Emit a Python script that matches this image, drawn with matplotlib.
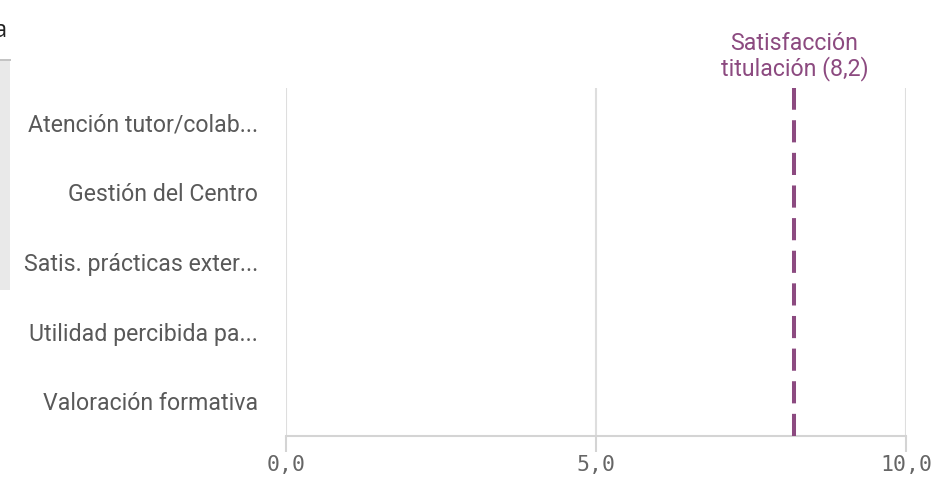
import matplotlib
matplotlib.use("Agg")
import matplotlib.pyplot as plt
import matplotlib.patches as mpatches
import numpy as np

categories = ["Atención tutor/colab...", "Gestión del Centro", "Satis. prácticas exter...",
              "Utilidad percibida pa...", "Valoración formativa"]
values = [np.nan, np.nan, np.nan, np.nan, np.nan]
ref_value = 8.2
ref_label = "Satisfacción\ntitulación (8,2)"
xticks = [0, 5, 10]
xtick_labels = ["0,0", "5,0", "10,0"]

W, H = 947, 504
fig = plt.figure(figsize=(W / 100, H / 100), dpi=100)

# left gray panel (partially visible)
fig.patches.append(mpatches.Rectangle((0, 1 - 290 / H), 10 / W, (290 - 60) / H,
                                      transform=fig.transFigure, facecolor="#e9e9e9",
                                      edgecolor="none", zorder=0))
fig.patches.append(mpatches.Rectangle((0, 1 - 61 / H), 11 / W, 2 / H,
                                      transform=fig.transFigure, facecolor="#c4c4c4",
                                      edgecolor="none", zorder=1))
# clipped title fragment
fig.text(-6 / W, 1 - 31 / H, "a", fontsize=17, color="#222222", family="Open Sans",
         ha="left", va="center")

ax = fig.add_axes([286 / W, 1 - 436 / H, (906 - 286) / W, (436 - 88) / H])
y = np.arange(len(categories))
ax.barh(y, values, height=0.6, color="#4477aa")
ax.set_ylim(len(categories) - 0.5, -0.5)
ax.set_xlim(0, 10)
ax.set_yticks(y)
ax.set_yticklabels(categories, family="Roboto", fontsize=16.7, color="#595959")
ax.tick_params(axis="y", length=0, pad=20)
ax.set_xticks(xticks)
ax.set_xticklabels(xtick_labels, family="DejaVu Sans Mono", fontsize=15.5, color="#666666")
ax.tick_params(axis="x", length=11.5, width=1.5, color="#d4d4d4", pad=2)
for s in ["top", "right", "left"]:
    ax.spines[s].set_visible(False)
ax.spines["bottom"].set_color("#d4d4d4")
ax.spines["bottom"].set_linewidth(1.5)
ax.grid(axis="x", color="#dedede", linewidth=1.5)
ax.set_axisbelow(True)

ax.axvline(ref_value, color="#8c4a80", linewidth=2.9, linestyle=(0, (5.5, 2.6)), zorder=3)
ax.text(ref_value, -0.5 - 0.1, ref_label, transform=ax.transData, ha="center", va="bottom",
        family="Roboto", fontsize=16.7, color="#8c4a80", linespacing=1.05, clip_on=False)

fig.savefig("out.png", dpi=100)
